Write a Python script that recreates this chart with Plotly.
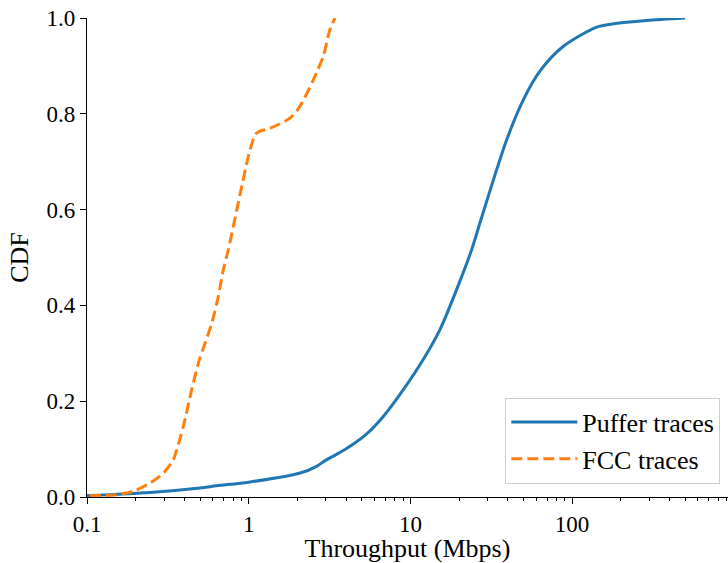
import plotly.graph_objects as go

# Puffer traces CDF (throughput in Mbps, cumulative fraction)
puffer_x = [0.1, 0.245, 0.5, 0.634, 1.0, 2.08, 2.63, 2.97, 3.94, 5.3, 6.8, 9.04, 12.0, 15.2,
            19.3, 23.9, 26.9, 32.6, 39.4, 49.9, 63.2, 88.3, 142, 180, 289, 500]
puffer_y = [0.003, 0.0096, 0.019, 0.0236, 0.031, 0.050, 0.064, 0.076, 0.099, 0.130, 0.168, 0.224, 0.287, 0.349,
            0.433, 0.516, 0.572, 0.662, 0.746, 0.829, 0.889, 0.941, 0.981, 0.988, 0.995, 1.0]

# FCC traces CDF
fcc_x = [0.104, 0.145, 0.193, 0.245, 0.297, 0.342, 0.359, 0.394, 0.444, 0.489, 0.537, 0.591, 0.649,
         0.697, 0.748, 0.905, 1.02, 1.12, 1.36, 1.80, 2.07, 2.51, 2.89, 3.18, 3.42]
fcc_y = [0.003, 0.004, 0.012, 0.029, 0.050, 0.078, 0.099, 0.147, 0.224, 0.280, 0.321, 0.363, 0.419,
         0.475, 0.516, 0.648, 0.725, 0.760, 0.770, 0.791, 0.815, 0.871, 0.920, 0.976, 1.0]

x_tickvals = [0.1, 1, 10, 100]
x_ticktext = ["0.1", "1", "10", "100"]
x_minor_vals = [m * d for d in (0.1, 1, 10, 100) for m in range(2, 10)]
y_tickvals = [0.0, 0.2, 0.4, 0.6, 0.8, 1.0]

FONT = "Liberation Serif, Times New Roman, serif"

fig = go.Figure()
fig.add_trace(go.Scatter(x=puffer_x, y=puffer_y, mode="lines", name="Puffer traces",
                         line=dict(color="#1f77b4", width=3, shape="spline", smoothing=0.8)))
fig.add_trace(go.Scatter(x=fcc_x, y=fcc_y, mode="lines", name="FCC traces",
                         line=dict(color="#ff7f0e", width=3, dash="11px,5px", shape="spline", smoothing=0.8)))

fig.update_layout(
    width=728, height=563,
    margin=dict(l=87, r=0, t=18, b=66),
    paper_bgcolor="white", plot_bgcolor="white",
    font=dict(family=FONT, size=23, color="black"),
    xaxis=dict(type="log", range=[-1, 2.964], tickvals=x_tickvals, ticktext=x_ticktext,
               automargin=False,
               showline=True, linecolor="black", linewidth=1.3, ticks="outside", ticklen=6,
               tickwidth=1.2, tickcolor="black", showgrid=False, zeroline=False,
               tickfont=dict(size=23),
               minor=dict(tickmode="array", tickvals=x_minor_vals, ticks="outside", ticklen=3,
                          tickwidth=1, tickcolor="black", showgrid=False),
               title=dict(text="Throughput (Mbps)", font=dict(size=26), standoff=13)),
    yaxis=dict(range=[0, 1.0], tickvals=y_tickvals, tickformat=".1f",
               automargin=False,
               showline=True, linecolor="black", linewidth=1.3, ticks="outside", ticklen=6,
               tickwidth=1.2, tickcolor="black", showgrid=False, zeroline=False,
               tickfont=dict(size=23),
               title=dict(text="CDF", font=dict(size=26), standoff=10)),
    legend=dict(x=0.988, y=0.028, xanchor="right", yanchor="bottom",
                bordercolor="#cccccc", borderwidth=1, bgcolor="rgba(255,255,255,0.8)",
                font=dict(size=26), itemwidth=66, tracegroupgap=0),
    showlegend=True,
)

fig.write_html("out.html")
